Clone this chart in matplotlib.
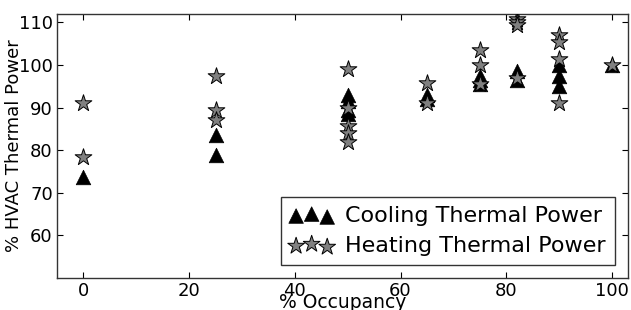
import matplotlib
matplotlib.use("Agg")
import matplotlib.pyplot as plt

# Cooling thermal power (triangles)
cool_occ = [0, 25, 25, 50, 50, 50, 50, 65, 65, 75, 75, 75, 82, 82, 90, 90, 90, 100]
cool_pct = [73.8, 83.5, 79.0, 93.0, 91.5, 89.5, 88.5, 93.0, 92.0, 97.5, 96.5, 95.5, 98.5, 96.5, 100.0, 97.5, 95.0, 100.0]

# Heating thermal power (stars)
heat_occ = [0, 0, 25, 25, 25, 50, 50, 50, 50, 50, 65, 65, 75, 75, 75, 82, 82, 82, 82, 90, 90, 90, 90, 100]
heat_pct = [91.0, 78.5, 97.5, 89.5, 87.0, 99.0, 90.0, 85.8, 84.0, 82.0, 95.7, 91.0, 103.5, 100.0, 95.5, 110.8, 110.0, 109.3, 97.0, 107.0, 105.5, 101.5, 91.0, 100.0]

x_ticks = [0, 20, 40, 60, 80, 100]
y_ticks = [60, 70, 80, 90, 100, 110]

fig = plt.figure(figsize=(6.31, 3.10), dpi=100, facecolor="white")
ax = fig.add_axes([0.0903, 0.103, 0.9047, 0.852])

ax.scatter(cool_occ, cool_pct, marker="^", s=110, color="black", edgecolor="black",
           linewidth=0.5, label="Cooling Thermal Power", zorder=2)
ax.scatter(heat_occ, heat_pct, marker="*", s=160, color="#808080", edgecolor="black",
           linewidth=0.7, label="Heating Thermal Power", zorder=3)

ax.set_xlim(-5, 103)
ax.set_ylim(50, 112)
ax.set_xticks(x_ticks)
ax.set_yticks(y_ticks)
ax.tick_params(direction="in", top=True, right=True, labelsize=13, length=4, width=0.8, pad=3)
for spine in ax.spines.values():
    spine.set_color("#333333")
    spine.set_linewidth(1.0)

ax.set_xlabel("% Occupancy", fontsize=13.5)
ax.set_ylabel("% HVAC Thermal Power", fontsize=13)
ax.xaxis.set_label_coords(0.5, -0.056, transform=ax.transAxes)
ax.xaxis.label.set_va("top")
ax.yaxis.set_label_coords(-0.059, 0.5)

leg = ax.legend(loc="lower right", scatterpoints=3, fontsize=16, fancybox=False,
                frameon=True, borderaxespad=0.6, handletextpad=0.5, labelspacing=0.45,
                borderpad=0.4)
leg.get_frame().set_edgecolor("black")
leg.get_frame().set_linewidth(1.0)

fig.savefig("out.png", dpi=100, facecolor="white")
